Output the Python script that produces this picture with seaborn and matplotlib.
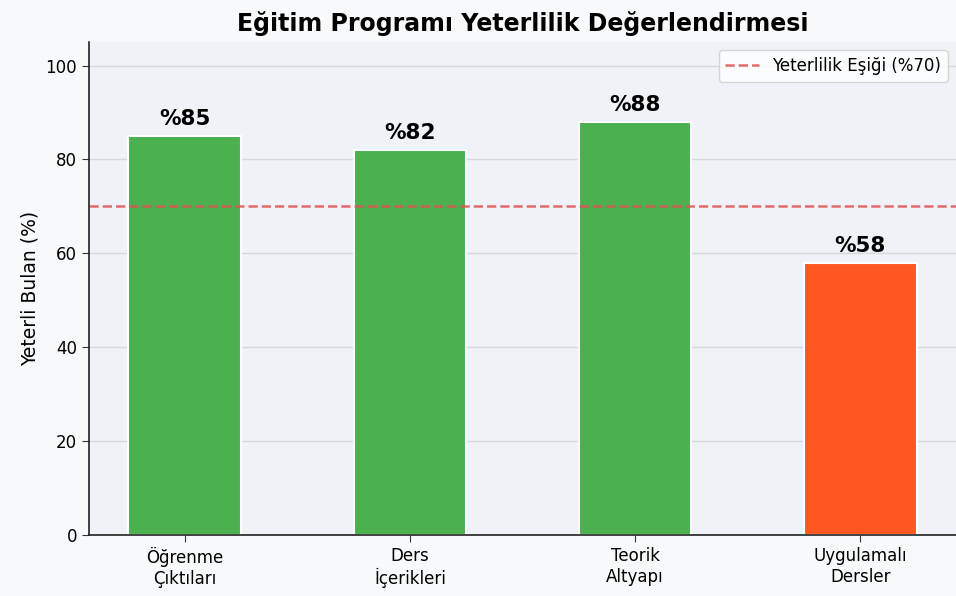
import matplotlib
matplotlib.use('Agg')
import matplotlib.pyplot as plt
import seaborn as sns
import pandas as pd

# veriler
categories = ['Öğrenme\nÇıktıları', 'Ders\nİçerikleri', 'Teorik\nAltyapı', 'Uygulamalı\nDersler']
values = [85, 82, 88, 58]
threshold = 70
bar_colors = ['#4CAF50', '#4CAF50', '#4CAF50', '#FF5722']

sns.set_style('whitegrid')
plt.rcParams['font.family'] = ['DejaVu Sans']
plt.rcParams['text.color'] = 'black'
plt.rcParams['axes.labelcolor'] = 'black'
plt.rcParams['xtick.color'] = 'black'
plt.rcParams['ytick.color'] = 'black'

df = pd.DataFrame({'kategori': categories, 'oran': values})

fig = plt.figure(figsize=(9.56, 5.96), dpi=100, facecolor='#f8f9fa')
ax = fig.add_axes([0.093, 0.102, 0.907, 0.8275])
ax.set_facecolor('#eff3f8')

sns.barplot(data=df, x='kategori', y='oran', hue='kategori', palette=bar_colors,
            legend=False, width=0.5, edgecolor='white', linewidth=1.5, ax=ax, saturation=1)

ax.axhline(threshold, color='#e05252', linestyle='--', linewidth=1.8, alpha=0.85,
           label='Yeterlilik Eşiği (%70)')

for i, v in enumerate(values):
    ax.text(i, v + 1.5, f'%{v}', ha='center', va='bottom', fontsize=15.5, fontweight='bold')

ax.set_ylim(0, 105)
ax.set_xlim(-0.425, 3.425)
ax.set_yticks([0, 20, 40, 60, 80, 100])
ax.set_xlabel('')
ax.set_ylabel('Yeterli Bulan (%)', fontsize=13.5)
ax.set_title('Eğitim Programı Yeterlilik Değerlendirmesi', fontsize=17, fontweight='bold', pad=8)
ax.tick_params(axis='both', labelsize=12, length=5, color='#333333', left=True, bottom=True)
ax.grid(axis='y', color='#d5d9de', linewidth=1)
ax.grid(axis='x', visible=False)
ax.set_axisbelow(True)

for s in ['top', 'right']:
    ax.spines[s].set_visible(False)
for s in ['left', 'bottom']:
    ax.spines[s].set_color('#222222')
    ax.spines[s].set_linewidth(1.2)

ax.legend(loc='upper right', fontsize=12, frameon=True, facecolor='white', edgecolor='#cccccc')

plt.savefig('out.png', dpi=100, facecolor=fig.get_facecolor())
plt.close()
